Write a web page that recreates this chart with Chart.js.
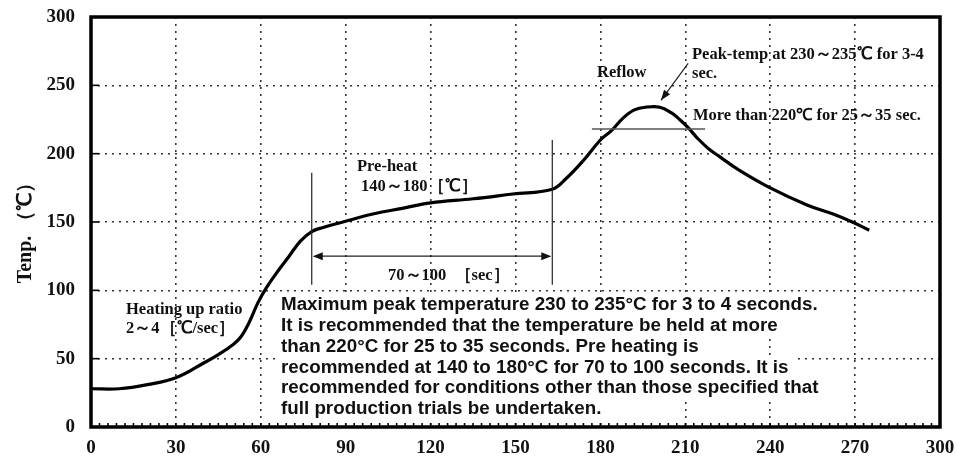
<!DOCTYPE html>
<html>
<head>
<meta charset="utf-8">
<script src="https://cdn.jsdelivr.net/npm/chart.js@4.4.1/dist/chart.umd.min.js"></script>
<style>
  body { margin: 0; background: #fff; }
  #wrap { width: 957px; height: 461px; position: relative; }
</style>
</head>
<body>
<div id="wrap"><canvas id="profile"></canvas></div>
<script>
// reflow profile (seconds / degC)
const times = [0, 10, 20, 30, 40, 45, 50, 53, 56, 59, 62, 66, 70, 74, 78, 82, 89, 100, 110, 120, 135, 149, 163, 168, 174, 180, 184, 188, 192, 196, 201, 205, 208, 211, 214, 218, 222, 229, 240, 253, 262, 269, 275]
const temps = [28, 28, 31, 36, 47, 53, 60, 66, 77, 91, 102, 114, 125, 136, 143, 146, 150, 156, 160, 164, 167, 170.5, 174, 182, 195, 210, 217, 226, 232, 234, 234, 230, 225, 219, 212, 204, 198, 188, 175, 162.5, 156, 150, 144]
const xTicks = [0, 30, 60, 90, 120, 150, 180, 210, 240, 270, 300]
const yTicks = [0, 50, 100, 150, 200, 250, 300]

const noteLines = [
    'Maximum peak temperature 230 to 235°C for 3 to 4 seconds.',
    'It is recommended that the temperature be held at more',
    'than 220°C for 25 to 35 seconds. Pre heating is',
    'recommended at 140 to 180°C for 70 to 100 seconds. It is',
    'recommended for conditions other than those specified that',
    'full production trials be undertaken.'
]

const serif = '"Liberation Serif", "Times New Roman", serif'
const sans = '"Liberation Sans", Arial, sans-serif'

const points = times.map((t, i) => ({ x: t, y: temps[i] }))

// frame, ticks, helper lines and the texts
const decor = {
    id: 'decor',
    beforeDatasetsDraw(chart) {
        const { ctx } = chart
        // white boxes behind the note block
        ctx.save()
        ctx.font = 'bold 18.8px ' + sans
        ctx.fillStyle = '#fff'
        noteLines.forEach((line, i) => {
            const w = ctx.measureText(line).width
            ctx.fillRect(278, 294 + i * 20.8, w + 8, 21)
        })
        ctx.restore()
    },
    afterDatasetsDraw(chart) {
        const { ctx, chartArea: a, scales: { x, y } } = chart
        ctx.save()

        // minor ticks along bottom
        ctx.strokeStyle = '#000'
        ctx.lineWidth = 1.6
        for (let t = 3; t < 300; t += 3) {
            const px = x.getPixelForValue(t)
            ctx.beginPath()
            ctx.moveTo(px, a.bottom)
            ctx.lineTo(px, a.bottom - 4)
            ctx.stroke()
        }
        // short y ticks inside
        for (const v of yTicks) {
            const py = y.getPixelForValue(v)
            ctx.beginPath()
            ctx.moveTo(a.left, py)
            ctx.lineTo(a.left + 8, py)
            ctx.stroke()
        }

        // thick frame
        ctx.lineWidth = 3.5
        ctx.strokeRect(a.left, a.top, a.right - a.left, a.bottom - a.top)

        // preheat markers
        ctx.strokeStyle = '#222'
        ctx.lineWidth = 1.2
        const xl = x.getPixelForValue(78), xr = x.getPixelForValue(163)
        ctx.beginPath()
        ctx.moveTo(xl, y.getPixelForValue(186)); ctx.lineTo(xl, y.getPixelForValue(104))
        ctx.moveTo(xr, y.getPixelForValue(210)); ctx.lineTo(xr, y.getPixelForValue(104))
        const ya = y.getPixelForValue(125)
        ctx.moveTo(xl + 8, ya); ctx.lineTo(xr - 8, ya)
        ctx.stroke()
        ctx.fillStyle = '#111'
        ctx.beginPath()
        ctx.moveTo(xl + 1, ya); ctx.lineTo(xl + 11, ya - 4); ctx.lineTo(xl + 11, ya + 4); ctx.closePath()
        ctx.moveTo(xr - 1, ya); ctx.lineTo(xr - 11, ya - 4); ctx.lineTo(xr - 11, ya + 4); ctx.closePath()
        ctx.fill()

        // 220 line in reflow zone
        ctx.strokeStyle = '#555'
        ctx.lineWidth = 1.5
        const y220 = y.getPixelForValue(218)
        ctx.beginPath()
        ctx.moveTo(x.getPixelForValue(177), y220)
        ctx.lineTo(x.getPixelForValue(217), y220)
        ctx.stroke()

        // arrow to the peak
        const p0 = { x: x.getPixelForValue(211), y: y.getPixelForValue(266) }
        const p1 = { x: x.getPixelForValue(201.4), y: y.getPixelForValue(239) }
        ctx.strokeStyle = '#222'
        ctx.lineWidth = 1.2
        ctx.beginPath()
        ctx.moveTo(p0.x, p0.y); ctx.lineTo(p1.x, p1.y)
        ctx.stroke()
        const ang = Math.atan2(p1.y - p0.y, p1.x - p0.x)
        ctx.beginPath()
        ctx.moveTo(p1.x, p1.y)
        ctx.lineTo(p1.x - 11 * Math.cos(ang - 0.35), p1.y - 11 * Math.sin(ang - 0.35))
        ctx.lineTo(p1.x - 11 * Math.cos(ang + 0.35), p1.y - 11 * Math.sin(ang + 0.35))
        ctx.closePath()
        ctx.fill()

        // serif labels
        ctx.fillStyle = '#111'
        ctx.textBaseline = 'middle'
        ctx.textAlign = 'left'
        ctx.font = 'bold 16.5px ' + serif
        ctx.fillText('Peak-temp at 230～235℃ for 3-4', 692, 55)
        ctx.fillText('sec.', 692, 74)
        ctx.fillText('More than 220℃ for 25～35 sec.', 693, 116)
        ctx.fillText('Reflow', 597, 73)
        ctx.fillText('Pre-heat', 357, 167)
        ctx.fillText('140～180［℃］', 361, 187)
        ctx.fillText('70～100  ［sec］', 388, 276)
        ctx.fillText('Heating up ratio', 126, 310)
        ctx.fillText('2～4［℃/sec］', 126, 329)

        // note block
        ctx.fillStyle = '#111'
        ctx.font = 'bold 18.8px ' + sans
        noteLines.forEach((line, i) => {
            ctx.fillText(line, 281, 305 + i * 20.8)
        })

        // y title
        ctx.save()
        ctx.translate(26, 228)
        ctx.rotate(-Math.PI / 2)
        ctx.textAlign = 'center'
        ctx.font = 'bold 20px ' + serif
        ctx.fillText('Tenp. （℃）', 0, 0)
        ctx.restore()

        ctx.restore()
    }
}

var ctx = document.getElementById('profile')
var profileChart = new Chart(ctx, {
    type: 'line',
    data: {
        datasets: [{
            label: 'Temp',
            data: points,
            borderColor: '#000',
            borderWidth: 3.2,
            pointRadius: 0,
            fill: false,
            tension: 0.4
        }]
    },
    options: {
        responsive: true,
        maintainAspectRatio: false,
        devicePixelRatio: 1,
        animation: false,
        layout: { padding: { top: 17, right: 17, left: 0, bottom: 0 } },
        plugins: {
            legend: { display: false },
            tooltip: { enabled: false }
        },
        scales: {
            x: {
                type: 'linear',
                min: 0,
                max: 300,
                afterFit: s => { s.height = 34; s.paddingLeft = 0; s.paddingRight = 0 },
                afterBuildTicks: s => { s.ticks = xTicks.map(v => ({ value: v })) },
                ticks: { color: '#111', padding: 10, font: { family: serif, size: 19, weight: 'bold' } },
                grid: { color: '#333', lineWidth: 1.6, drawTicks: false },
                border: { display: false, dash: [2, 5] }
            },
            y: {
                min: 0,
                max: 300,
                afterFit: s => { s.width = 91; s.paddingTop = 0; s.paddingBottom = 0 },
                afterBuildTicks: s => { s.ticks = yTicks.map(v => ({ value: v })) },
                ticks: { color: '#111', padding: 16, font: { family: serif, size: 19, weight: 'bold' } },
                grid: { color: '#333', lineWidth: 1.6, drawTicks: false },
                border: { display: false, dash: [2, 5] }
            }
        }
    },
    plugins: [decor]
})
</script>
</body>
</html>
